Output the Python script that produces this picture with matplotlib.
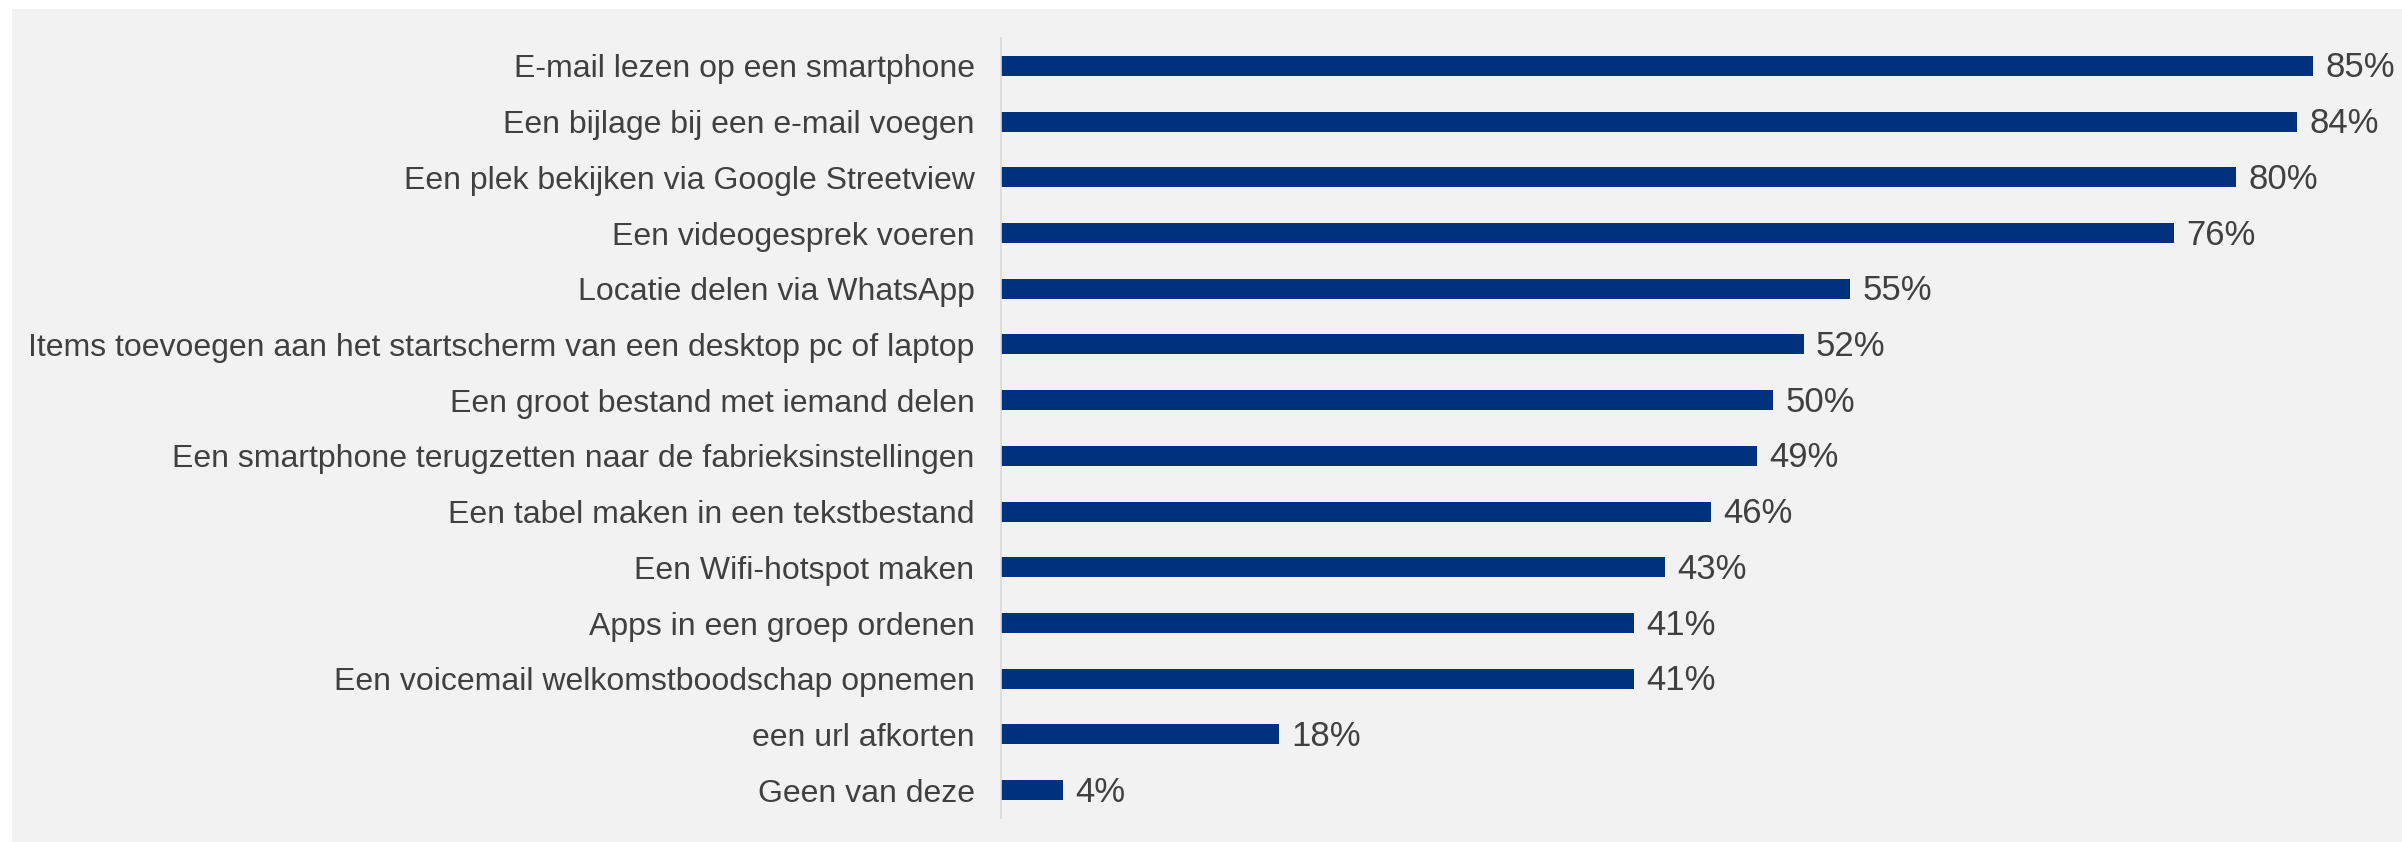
import matplotlib.pyplot as plt
from matplotlib.patches import Rectangle

# digitale vaardigheden: aandeel dat de handeling kan uitvoeren
activiteiten = [
    "E-mail lezen op een smartphone",
    "Een bijlage bij een e-mail voegen",
    "Een plek bekijken via Google Streetview",
    "Een videogesprek voeren",
    "Locatie delen via WhatsApp",
    "Items toevoegen aan het startscherm van een desktop pc of laptop",
    "Een groot bestand met iemand delen",
    "Een smartphone terugzetten naar de fabrieksinstellingen",
    "Een tabel maken in een tekstbestand",
    "Een Wifi-hotspot maken",
    "Apps in een groep ordenen",
    "Een voicemail welkomstboodschap opnemen",
    "een url afkorten",
    "Geen van deze",
]
percentages = [85, 84, 80, 76, 55, 52, 50, 49, 46, 43, 41, 41, 18, 4]

BG = "#f2f2f2"
BAR = "#00317f"
TXT = "#404040"

plt.rcParams["font.family"] = ["Liberation Sans", "DejaVu Sans"]

fig = plt.figure(figsize=(24.02, 8.42), dpi=100)
fig.patch.set_facecolor("white")
fig.patches.append(Rectangle((12 / 2402, 0), 1 - 12 / 2402, 1 - 9 / 842,
                             transform=fig.transFigure, facecolor=BG,
                             edgecolor="none", zorder=-1))

ax = fig.add_axes([1001 / 2402, 24 / 842, (2390 - 1001) / 2402, 780 / 842])
ax.set_facecolor("none")

y = range(len(activiteiten))
ax.barh(y, percentages, height=0.36, color=BAR)

for yi, v in zip(y, percentages):
    ax.annotate(f"{v}%", (v, yi), xytext=(9, -1.5), textcoords="offset points",
                va="center", ha="left", fontsize=25, color=TXT)

ax.set_xlim(0, 90)
ax.set_ylim(len(activiteiten) - 0.5, -0.5)
ax.set_yticks(list(y))
ax.set_yticklabels(activiteiten, fontsize=23, color=TXT)
ax.tick_params(axis="y", length=0, pad=19)
ax.set_xticks([])

for side in ["top", "right", "bottom"]:
    ax.spines[side].set_visible(False)
ax.spines["left"].set_color("#d9d9d9")
ax.spines["left"].set_linewidth(1.2)

fig.savefig("out.png", dpi=100, facecolor=fig.get_facecolor())
